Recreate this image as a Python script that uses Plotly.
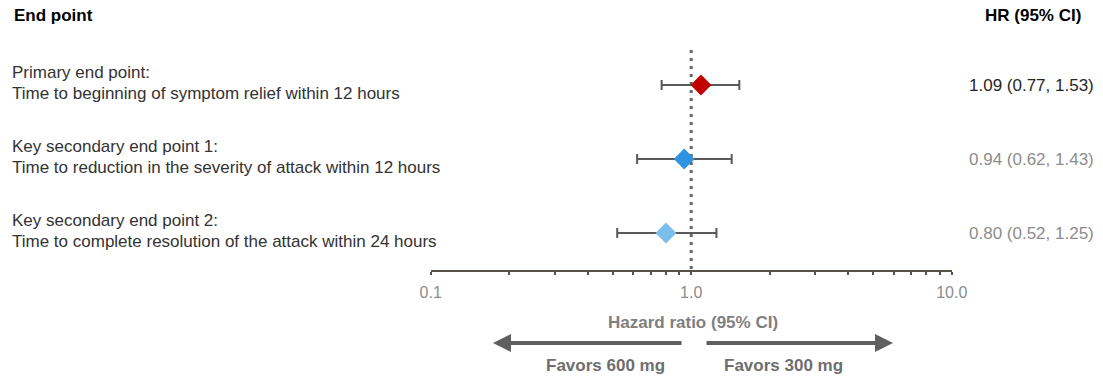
import plotly.graph_objects as go

# ---- data ----
endpoint_titles = ["Primary end point:", "Key secondary end point 1:", "Key secondary end point 2:"]
endpoint_desc = [
    "Time to beginning of symptom relief within 12 hours",
    "Time to reduction in the severity of attack within 12 hours",
    "Time to complete resolution of the attack within 24 hours",
]
hr = [1.09, 0.94, 0.80]
ci_low = [0.77, 0.62, 0.52]
ci_high = [1.53, 1.43, 1.25]
marker_colors = ["#C00000", "#2E93E3", "#7BBDEB"]
hr_text_colors = ["#262626", "#8C8C8C", "#8C8C8C"]
tick_vals = [0.1, 0.2, 0.3, 0.4, 0.5, 0.6, 0.7, 0.8, 0.9, 1, 2, 3, 4, 5, 6, 7, 8, 9, 10]
tick_text = ["0.1"] + [""] * 8 + ["1.0"] + [""] * 8 + ["10.0"]
end_ticks = [0.1, 10]
ref_hr = 1.0

# the page's default body margin is removed (post_script), so figure pixels == window pixels
OFF = 0
WIN_W, WIN_H = 1103, 376
W, H = WIN_W - OFF, WIN_H - OFF
AXIS_Y = 270  # window pixel of the axis line
PLOT_H = AXIS_Y - OFF
ROW0, ROW_STEP = 85, 74  # window pixel of first row, row spacing
FONT = "Arial, 'Liberation Sans', sans-serif"

rows = list(range(len(hr)))

def px2x(px):
    return (px - OFF) / W

def py2y(py):
    return (AXIS_Y - py) / PLOT_H

y_top = -(ROW0 - OFF) / ROW_STEP
y_bottom = y_top + PLOT_H / ROW_STEP

fig = go.Figure()

# reference line at HR = 1
fig.add_shape(type="line", xref="x", yref="y", x0=ref_hr, x1=ref_hr,
              y0=(50 - ROW0) / ROW_STEP, y1=y_bottom,
              line=dict(color="#666666", width=3, dash="3px,5px"), layer="below")

for i in rows:
    fig.add_trace(go.Scatter(
        x=[hr[i]], y=[i], mode="markers",
        marker=dict(symbol="diamond", size=16, color=marker_colors[i], line=dict(width=0)),
        error_x=dict(type="data", symmetric=False,
                     array=[ci_high[i] - hr[i]], arrayminus=[hr[i] - ci_low[i]],
                     color="#595959", thickness=2, width=5),
        showlegend=False, hoverinfo="skip"))

# invisible trace to carry the end-cap axis
fig.add_trace(go.Scatter(x=end_ticks, y=[y_bottom, y_bottom], xaxis="x2", mode="markers",
                         marker=dict(opacity=0), showlegend=False, hoverinfo="skip"))

ann = []
LBL = 17
# headers
ann.append(dict(text="<b>End point</b>", x=px2x(12), y=py2y(15), xref="paper", yref="paper",
                xanchor="left", yanchor="middle", showarrow=False,
                font=dict(family=FONT, size=17, color="#000000")))
ann.append(dict(text="<b>HR (95% CI)</b>", x=px2x(1083), y=py2y(15), xref="paper", yref="paper",
                xanchor="right", yanchor="middle", showarrow=False,
                font=dict(family=FONT, size=17, color="#000000")))

for i in rows:
    ann.append(dict(text=endpoint_titles[i], x=px2x(10), y=i - 13 / ROW_STEP, xref="paper", yref="y",
                    xanchor="left", yanchor="middle", showarrow=False,
                    font=dict(family=FONT, size=LBL, color="#333333")))
    ann.append(dict(text=endpoint_desc[i], x=px2x(10), y=i + 8 / ROW_STEP, xref="paper", yref="y",
                    xanchor="left", yanchor="middle", showarrow=False,
                    font=dict(family=FONT, size=LBL, color="#333333")))
    ann.append(dict(text=f"{hr[i]:.2f} ({ci_low[i]:.2f}, {ci_high[i]:.2f})",
                    x=px2x(1096), y=i, xref="paper", yref="y",
                    xanchor="right", yanchor="middle", showarrow=False,
                    font=dict(family=FONT, size=LBL, color=hr_text_colors[i])))

# axis title and favours
ann.append(dict(text="<b>Hazard ratio (95% CI)</b>", x=px2x(693), y=py2y(322), xref="paper", yref="paper",
                xanchor="center", yanchor="middle", showarrow=False,
                font=dict(family=FONT, size=17, color="#7F7F7F")))
ann.append(dict(text="<b>Favors 600 mg</b>", x=px2x(605), y=py2y(365), xref="paper", yref="paper",
                xanchor="center", yanchor="middle", showarrow=False,
                font=dict(family=FONT, size=17, color="#6E6E6E")))
ann.append(dict(text="<b>Favors 300 mg</b>", x=px2x(783), y=py2y(365), xref="paper", yref="paper",
                xanchor="center", yanchor="middle", showarrow=False,
                font=dict(family=FONT, size=17, color="#6E6E6E")))
# arrows
ann.append(dict(text="", x=px2x(493), y=py2y(343), xref="paper", yref="paper",
                ax=683 - 493, ay=0, axref="pixel", ayref="pixel", showarrow=True,
                arrowhead=2, arrowsize=0.9, arrowwidth=4, arrowcolor="#5F5F5F"))
ann.append(dict(text="", x=px2x(893), y=py2y(343), xref="paper", yref="paper",
                ax=705 - 893, ay=0, axref="pixel", ayref="pixel", showarrow=True,
                arrowhead=2, arrowsize=0.9, arrowwidth=4, arrowcolor="#5F5F5F"))

domain = [px2x(430.7), px2x(951.7)]
fig.update_layout(
    width=W, height=H,
    margin=dict(l=0, r=0, t=0, b=H - PLOT_H, pad=0, autoexpand=False),
    paper_bgcolor="white", plot_bgcolor="white",
    annotations=ann,
    xaxis=dict(type="log", range=[-1, 1], domain=domain, automargin=False,
               showline=True, linecolor="#585348", linewidth=2,
               ticks="outside", ticklen=3, tickwidth=2, tickcolor="#585348",
               tickvals=tick_vals, ticktext=tick_text,
               tickfont=dict(family=FONT, size=16, color="#8C8C8C"),
               ticklabelstandoff=4,
               showgrid=False, zeroline=False, fixedrange=True),
    xaxis2=dict(type="log", range=[-1, 1], domain=domain, overlaying="x", anchor="y",
                side="bottom", showline=False, ticks="inside", ticklen=4, tickwidth=2,
                tickcolor="#585348", tickvals=end_ticks, showticklabels=False, automargin=False,
                showgrid=False, zeroline=False, fixedrange=True),
    yaxis=dict(range=[y_bottom, y_top], showticklabels=False, showgrid=False, automargin=False,
               zeroline=False, showline=False, ticks="", fixedrange=True),
)

fig.write_html("out.html",
               config={"displayModeBar": False, "staticPlot": True},
               post_script="document.body.style.margin='0';document.body.style.overflow='hidden';")
